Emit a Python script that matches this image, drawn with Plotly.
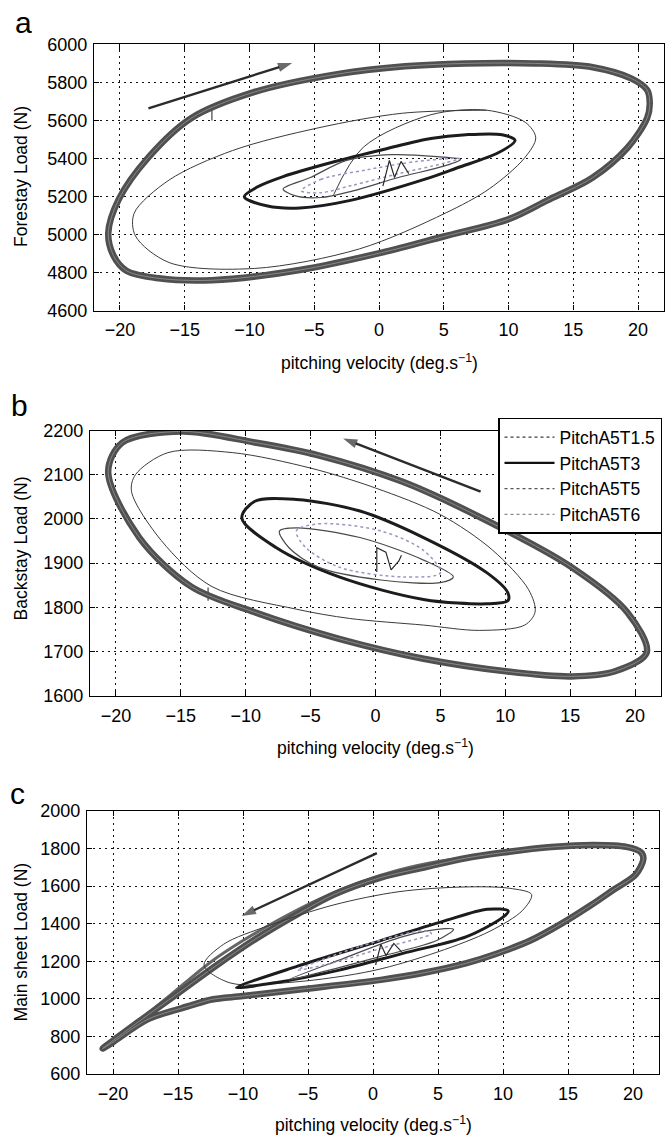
import plotly.graph_objects as go

# ---------------- data (pitching velocity in deg/s, loads in N) ----------------
X_TICKS = [-20, -15, -10, -5, 0, 5, 10, 15, 20]
SERIES = ["PitchA5T1.5", "PitchA5T3", "PitchA5T5", "PitchA5T6"]

# (a) forestay load
A_T15_X = [-20.9, -20.1, -17.8, -14.5, -9.6, -3.1, 2.0, 6.7, 12.0, 16.5, 19.5, 20.7, 20.9, 20.7, 19.2, 16.5, 13.0, 10.0, 5.0, 0.2, -6.0, -12.9, -17.0, -19.5, -20.5, -20.9]
A_T15_Y = [5008, 5184, 5406, 5612, 5750, 5845, 5885, 5900, 5900, 5880, 5820, 5760, 5690, 5613, 5458, 5300, 5180, 5081, 4990, 4905, 4815, 4760, 4770, 4810, 4890, 5008]
A_T15S_X = [-3.5, -1.2, 4.0, 8.3, 11.3, 12.1, 11.2, 8.5, 5.1, -1.5, -9.6, -16.2, -18.8, -18.9, -16.2, -11.3, -4.7, 1.8, 8.3]
A_T15S_Y = [5210, 5460, 5630, 5654, 5590, 5509, 5400, 5240, 5112, 4925, 4822, 4853, 4993, 5112, 5287, 5442, 5561, 5638, 5654]
A_T15G_X = [-12.9, -12.9]
A_T15G_Y = [5600, 5685]
A_T3_X = [-10.4, -9.4, -7.4, -3.6, 0.5, 4.0, 6.7, 9.5, 10.5, 9.2, 6.0, 3.5, -2.2, -6.1, -8.6, -10.4]
A_T3_Y = [5199, 5250, 5305, 5380, 5450, 5505, 5525, 5525, 5495, 5430, 5350, 5290, 5180, 5140, 5150, 5199]
A_T5_X = [-7.4, -5.3, -2.5, 1.0, 4.5, 6.3, 5.0, 1.5, -2.0, -4.5, -6.5, -7.4]
A_T5_Y = [5240, 5300, 5390, 5420, 5410, 5395, 5360, 5300, 5230, 5195, 5205, 5240]
A_T6_X = [-6.0, -4.5, -1.0, 3.0, 6.2, 5.0, 1.5, -2.0, -4.5, -6.0]
A_T6_Y = [5230, 5290, 5340, 5385, 5400, 5375, 5320, 5260, 5220, 5230]
A_START_X = [0.3, 0.8, 1.2, 1.7, 2.3]
A_START_Y = [5255, 5390, 5300, 5385, 5320]

# (b) backstay load
B_T15_X = [-20.6, -19.5, -14.9, -9.3, -4.4, 2.1, 8.6, 15.1, 19.4, 20.9, 18.4, 15.1, 10.2, 3.7, -2.8, -9.3, -14.2, -18.2, -20.6]
B_T15_Y = [2107, 2173, 2198, 2173, 2144, 2084, 1996, 1891, 1789, 1698, 1655, 1644, 1655, 1684, 1729, 1789, 1847, 1958, 2107]
B_T15S_X = [-16.0, -11.0, -5.0, 0.0, 5.0, 9.0, 11.8, 12.3, 11.5, 8.0, 3.7, -2.0, -6.1, -12.6, -16.5, -18.8, -18.5, -16.0]
B_T15S_Y = [2150, 2150, 2115, 2070, 2010, 1930, 1840, 1790, 1760, 1748, 1760, 1775, 1796, 1847, 1951, 2062, 2100, 2150]
B_T15G_X = [-12.9, -12.9]
B_T15G_Y = [1815, 1845]
B_T3_X = [-10.3, -9.3, -6.1, -1.2, 3.7, 8.6, 10.2, 10.2, 8.6, 3.7, -2.8, -7.7, -10.3]
B_T3_Y = [2002, 2040, 2044, 2018, 1958, 1878, 1833, 1815, 1808, 1818, 1869, 1936, 2002]
B_T5_X = [-7.4, -6.1, -1.2, 3.7, 6.0, 5.0, 0.4, -4.4, -6.7, -7.4]
B_T5_Y = [1973, 1980, 1958, 1907, 1869, 1856, 1862, 1891, 1936, 1973]
B_T6_X = [-6.1, -4.4, 0.4, 3.7, 5.0, 2.1, -2.8, -5.4, -6.1]
B_T6_Y = [1973, 1989, 1973, 1929, 1878, 1869, 1891, 1936, 1973]
B_START_X = [0.1, 0.1, 0.8, 1.2, 1.8, 2.0]
B_START_Y = [1880, 1935, 1925, 1885, 1905, 1918]

# (c) main sheet load
C_T15_X = [-20.8, -18.0, -15.0, -12.0, -9.0, -5.8, -3.0, 0.6, 4.0, 7.2, 10.0, 13.7, 17.0, 19.5, 20.6, 20.8, 20.2, 18.5, 16.9, 14.5, 12.1, 9.5, 7.2, 4.0, 0.6, -5.8, -10.0, -12.4, -14.0, -17.3, -20.0, -20.8]
C_T15_Y = [736, 880, 1030, 1180, 1320, 1451, 1555, 1645, 1700, 1749, 1778, 1807, 1818, 1808, 1780, 1745, 1660, 1580, 1504, 1400, 1310, 1240, 1190, 1140, 1101, 1049, 1015, 997, 965, 892, 770, 736]
# outlying cycle that widens the band on its upper-left branch
C_T15B_X = [-18.0, -15.5, -12.5, -10.0, -7.0, -4.0, -1.0, 2.0, 5.0, 8.0]
C_T15B_Y = [885, 1025, 1195, 1310, 1430, 1535, 1620, 1685, 1730, 1760]
C_T15S_X = [12.2, 10.5, 7.0, 2.0, -3.0, -8.0, -11.5, -13.0, -11.0, -6.0, 0.0, 5.0, 9.0, 11.5, 12.2]
C_T15S_Y = [1555, 1588, 1595, 1570, 1500, 1390, 1290, 1180, 1085, 1090, 1150, 1250, 1360, 1470, 1555]
C_T3_X = [-10.5, -5.8, 0.6, 5.5, 8.8, 10.4, 10.0, 7.2, 2.3, -2.6, -7.5, -10.5]
C_T3_Y = [1060, 1174, 1310, 1415, 1477, 1467, 1435, 1331, 1242, 1153, 1086, 1060]
C_T5_X = [-6.5, -2.6, 2.3, 5.5, 6.2, 4.9, 0.6, -4.2, -6.5]
C_T5_Y = [1101, 1206, 1331, 1373, 1370, 1310, 1226, 1138, 1101]
C_T6_X = [-5.8, -1.0, 3.9, 4.5, 0.6, -3.2, -5.8]
C_T6_Y = [1153, 1279, 1362, 1347, 1268, 1190, 1153]
C_START_X = [0.2, 0.6, 1.0, 1.6, 2.2]
C_START_Y = [1180, 1290, 1230, 1295, 1250]

# direction arrows: [tail x, head x], [tail y, head y]
A_ARROW_X, A_ARROW_Y = [-17.8, -6.7], [5664, 5902]
B_ARROW_X, B_ARROW_Y = [8.1, -2.5], [2062, 2182]
C_ARROW_X, C_ARROW_Y = [0.3, -10.1], [1775, 1441]

# ---------------- layout constants ----------------
W, H = 665, 1147
FONT = "Liberation Sans, Arial, Helvetica, sans-serif"
PANELS = [
    # letter, y title, y range, y dtick, x px (l, r), y px (top, bottom), x title y px, letter px, y title centre px
    ("a", "Forestay Load (N)", [4600, 6000], 200, (94, 664), (35, 306), 358, (23, 13), 170),
    ("b", "Backstay Load (N)", [1600, 2200], 100, (90, 661), (428, 698), 750, (19, 403), 548),
    ("c", "Main sheet Load (N)", [600, 2000], 200, (87, 659), (815, 1083), 1134, (17, 797), 949),
]
DATA = [
    (A_T15_X, A_T15_Y, A_T15S_X, A_T15S_Y, A_T3_X, A_T3_Y, A_T5_X, A_T5_Y, A_T6_X, A_T6_Y, A_START_X, A_START_Y, A_ARROW_X, A_ARROW_Y),
    (B_T15_X, B_T15_Y, B_T15S_X, B_T15S_Y, B_T3_X, B_T3_Y, B_T5_X, B_T5_Y, B_T6_X, B_T6_Y, B_START_X, B_START_Y, B_ARROW_X, B_ARROW_Y),
    (C_T15_X, C_T15_Y, C_T15S_X, C_T15S_Y, C_T3_X, C_T3_Y, C_T5_X, C_T5_Y, C_T6_X, C_T6_Y, C_START_X, C_START_Y, C_ARROW_X, C_ARROW_Y),
]
EXTRA_T15 = [
    [(A_T15G_X, A_T15G_Y, 1.5, "linear")],
    [(B_T15G_X, B_T15G_Y, 1.5, "linear")],
    [(C_T15B_X, C_T15B_Y, 3.0, "spline")],
]

fig = go.Figure()
annotations = []
layout = {}


def add_line(x, y, ax, color, width, dash="solid", shape="spline"):
    fig.add_trace(go.Scatter(
        x=x, y=y, mode="lines", xaxis="x" + ax, yaxis="y" + ax,
        line=dict(color=color, width=width, dash=dash, shape=shape, smoothing=0.9),
        showlegend=False, hoverinfo="skip"))


for i, (panel, data) in enumerate(zip(PANELS, DATA)):
    letter, ytitle, yrange, ydtick, (xl, xr), (yt, yb), xt_y, (lx, ly), yt_c = panel
    ax = "" if i == 0 else str(i + 1)
    (t15x, t15y, t15sx, t15sy, t3x, t3y, t5x, t5y, t6x, t6y, sx, sy, arx, ary) = data

    # PitchA5T1.5: repeated cycles form a broad grey band, plus the first transient cycle
    for ex, ey, ew, eshape in EXTRA_T15[i]:
        add_line(ex, ey, ax, "#666666", ew, shape=eshape)
    add_line(t15x, t15y, ax, "#505050", 6.5)
    add_line(t15x, t15y, ax, "#8e8e8e", 0.9)
    add_line(t15sx, t15sy, ax, "#3a3a3a", 1.0)
    # PitchA5T3
    add_line(t3x, t3y, ax, "#1c1c1c", 3.0)
    # PitchA5T5
    add_line(t5x, t5y, ax, "#4a4a4a", 1.2)
    # PitchA5T6
    add_line(t6x, t6y, ax, "#9a97c4", 1.5, dash="dot")
    add_line(sx, sy, ax, "#2a2a2a", 1.2, shape="linear")

    # direction of travel round the loops
    fig.add_trace(go.Scatter(
        x=arx, y=ary, mode="lines+markers", xaxis="x" + ax, yaxis="y" + ax,
        line=dict(color="#2b2b2b", width=2.4),
        marker=dict(symbol="arrow", angleref="previous", size=[0, 15],
                    color="#2b2b2b", line=dict(width=0)),
        showlegend=False, hoverinfo="skip"))

    axis_common = dict(
        showline=True, linecolor="black", linewidth=1.4, mirror="allticks",
        ticks="inside", ticklen=5, tickwidth=1, tickcolor="black",
        showgrid=True, gridcolor="#111111", gridwidth=1.3, griddash="2px,4px",
        zeroline=False, tickfont=dict(family=FONT, size=18, color="black"),
    )
    layout["xaxis" + ax] = dict(
        axis_common, domain=[xl / W, xr / W], range=[-22, 22],
        tickmode="array", tickvals=X_TICKS, anchor="y" + ax, ticklabelstandoff=3,
    )
    layout["yaxis" + ax] = dict(
        axis_common, domain=[1 - yb / H, 1 - yt / H], range=yrange,
        tick0=yrange[0], dtick=ydtick, anchor="x" + ax, ticklabelstandoff=2,
    )

    # panel letter
    annotations.append(dict(
        x=lx / W, y=1 - ly / H, xref="paper", yref="paper", showarrow=False,
        text=letter, font=dict(family=FONT, size=30, color="black"),
        xanchor="center", yanchor="middle"))
    # x title
    annotations.append(dict(
        x=((xl + xr) / 2) / W, y=1 - xt_y / H, xref="paper", yref="paper",
        showarrow=False, text="pitching velocity (deg.s<sup>\u22121</sup>)",
        font=dict(family=FONT, size=17.5, color="black"),
        xanchor="center", yanchor="middle"))
    # y title
    annotations.append(dict(
        x=21 / W, y=1 - yt_c / H, xref="paper", yref="paper", showarrow=False,
        text=ytitle, textangle=-90, font=dict(family=FONT, size=17.5, color="black"),
        xanchor="center", yanchor="middle"))

# legend entries (styles of the individual series)
LEGEND_STYLES = [
    dict(color="#3c3c3c", width=1.4, dash="dot"),
    dict(color="#111111", width=2.2, dash="solid"),
    dict(color="#555555", width=1.2, dash="dot"),
    dict(color="#8a8a8a", width=1.2, dash="dot"),
]
for name, style in zip(SERIES, LEGEND_STYLES):
    fig.add_trace(go.Scatter(
        x=[None], y=[None], mode="lines", name=name, line=style,
        xaxis="x2", yaxis="y2"))

fig.update_layout(
    width=W, height=H, margin=dict(l=0, r=0, t=0, b=0),
    paper_bgcolor="white", plot_bgcolor="white",
    font=dict(family=FONT, color="black"),
    annotations=annotations,
    legend=dict(
        x=498 / W, y=1 - 415 / H, xanchor="left", yanchor="top",
        bgcolor="white", bordercolor="black", borderwidth=1.5,
        font=dict(family=FONT, size=17.5, color="black"),
        itemwidth=50, tracegroupgap=0,
    ),
    **layout,
)

fig.write_html("out.html")
